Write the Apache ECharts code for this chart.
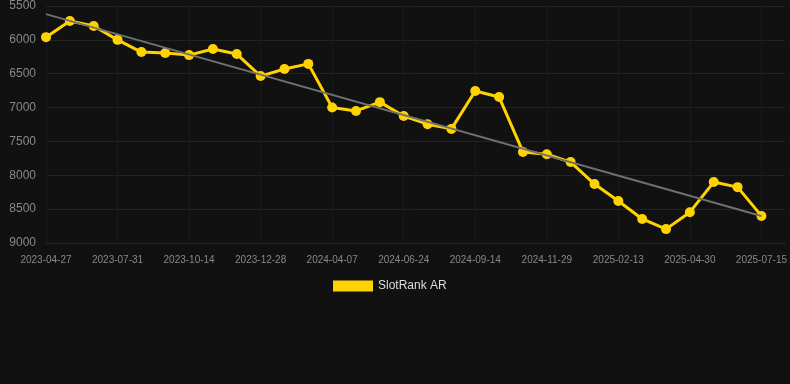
<!DOCTYPE html>
<html>
<head>
<meta charset="utf-8">
<script src="https://cdn.jsdelivr.net/npm/echarts@6/dist/echarts.min.js"></script>
<style>
  html, body { margin: 0; padding: 0; background: #111111; }
  #chart { width: 790px; height: 384px; }
</style>
</head>
<body>
<div id="chart"></div>
<script>
const dates = [
  '2023-04-27', '2023-05-29', '2023-06-30', '2023-07-31', '2023-08-25', '2023-09-19',
  '2023-10-14', '2023-11-08', '2023-12-03', '2023-12-28', '2024-01-31', '2024-03-05',
  '2024-04-07', '2024-05-03', '2024-05-29', '2024-06-24', '2024-07-21', '2024-08-17',
  '2024-09-14', '2024-10-09', '2024-11-04', '2024-11-29', '2024-12-24', '2025-01-19',
  '2025-02-13', '2025-03-10', '2025-04-05', '2025-04-30', '2025-05-25', '2025-06-20',
  '2025-07-15', '2025-08-09'
];

const rankValues = [
  5960, 5722, 5795, 6000, 6180, 6195, 6225, 6135, 6210, 6535, 6430, 6355,
  7000, 7050, 6920, 7125, 7245, 7315, 6755, 6845, 7655, 7690, 7805, 8130,
  8380, 8645, 8795, 8545, 8100, 8175, 8600, null
];

// trend line end points (category index, value)
const trendStart = [0, 5620];
const trendEnd = [30, 8600];

const yTicks = { min: 5500, max: 9000, step: 500 };

const chart = echarts.init(document.getElementById('chart'), null, { renderer: 'canvas' });

const option = {
  backgroundColor: '#111111',
  animation: false,
  grid: {
    left: 46,
    right: 4,
    top: 6,
    bottom: 141
  },
  legend: {
    data: ['SlotRank AR'],
    top: 275,
    left: 328,
    itemWidth: 40,
    itemHeight: 11,
    icon: 'rect',
    textStyle: {
      color: '#dddddd',
      fontSize: 12,
      fontFamily: 'Liberation Sans, Arial, sans-serif'
    }
  },
  xAxis: {
    type: 'category',
    boundaryGap: false,
    data: dates,
    axisLine: { show: true, lineStyle: { color: '#262626' } },
    axisTick: { show: false },
    axisLabel: {
      interval: 2,
      color: '#888888',
      fontSize: 10,
      margin: 12,
      fontFamily: 'Liberation Sans, Arial, sans-serif'
    },
    splitLine: {
      show: true,
      interval: 2,
      lineStyle: { color: '#1a1a1a' }
    }
  },
  yAxis: {
    type: 'value',
    inverse: true,
    min: yTicks.min,
    max: yTicks.max,
    interval: yTicks.step,
    axisLine: { show: false },
    axisTick: { show: false },
    axisLabel: {
      color: '#888888',
      fontSize: 12,
      margin: 10,
      formatter: function (v) { return String(v); },
      fontFamily: 'Liberation Sans, Arial, sans-serif'
    },
    splitLine: {
      lineStyle: { color: '#222222' }
    }
  },
  series: [
    {
      name: 'Trend',
      type: 'line',
      data: [],
      z: 1,
      markLine: {
        silent: true,
        symbol: ['none', 'none'],
        label: { show: false },
        lineStyle: { color: '#707070', width: 2, type: 'solid' },
        data: [[
          { coord: [trendStart[0], trendStart[1]] },
          { coord: [trendEnd[0], trendEnd[1]] }
        ]]
      }
    },
    {
      name: 'SlotRank AR',
      type: 'line',
      data: rankValues,
      z: 3,
      symbol: 'circle',
      symbolSize: 10,
      lineStyle: { color: '#FFD300', width: 3 },
      itemStyle: { color: '#FFD300' }
    }
  ]
};

chart.setOption(option);
</script>
</body>
</html>
